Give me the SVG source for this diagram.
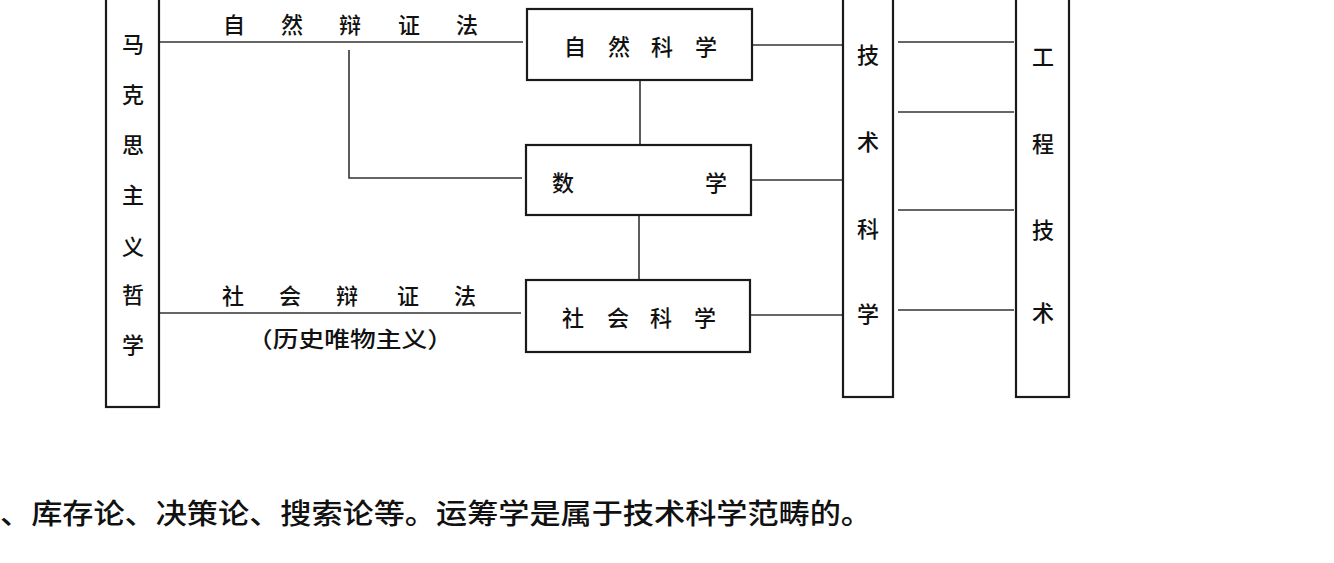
<svg xmlns="http://www.w3.org/2000/svg" width="1334" height="563" viewBox="0 0 1334 563">
<style>
.box{fill:#fff;stroke:#1a1a1a;stroke-width:2.2}
.ln{stroke:#333;stroke-width:1.6;fill:none}
.t{font-family:"Noto Sans CJK SC","Noto Sans CJK TC",sans-serif;font-size:22px;font-weight:500;fill:#111;text-anchor:middle;dominant-baseline:central}
.p{font-family:"Noto Sans CJK SC",sans-serif;font-size:28px;font-weight:500;fill:#111}
</style>
<rect width="1334" height="563" fill="#fff"/>
<g id="connectors">
<path class="ln" d="M160 42H523"/>
<path class="ln" d="M349 50V178H522"/>
<path class="ln" d="M160 313H521"/>
<path class="ln" d="M640 80V145"/>
<path class="ln" d="M639 215V280"/>
<path class="ln" d="M752 45H843"/>
<path class="ln" d="M751 180H843"/>
<path class="ln" d="M750 315H843"/>
<path class="ln" d="M898 42H1014"/>
<path class="ln" d="M898 112H1014"/>
<path class="ln" d="M898 210H1014"/>
<path class="ln" d="M898 310H1014"/>
</g>
<g id="label-ziran">
<text class="t" x="234" y="23">自</text><text class="t" x="292" y="23">然</text><text class="t" x="350" y="23">辩</text><text class="t" x="409" y="23">证</text><text class="t" x="467" y="23">法</text>
</g>
<g id="label-shehui">
<text class="t" x="233" y="294">社</text><text class="t" x="290" y="294">会</text><text class="t" x="347" y="294">辩</text><text class="t" x="408" y="294">证</text><text class="t" x="465" y="294">法</text>
<text class="t" x="350" y="337" textLength="206" lengthAdjust="spacingAndGlyphs">（历史唯物主义）</text>
</g>
<g id="node-zhexue">
<rect class="box" x="106" y="-10" width="53" height="417"/>
<text class="t" x="133" y="42">马</text><text class="t" x="133" y="93">克</text><text class="t" x="133" y="143">思</text><text class="t" x="133" y="193">主</text><text class="t" x="133" y="245">义</text><text class="t" x="133" y="293">哲</text><text class="t" x="133" y="343">学</text>
</g>
<g id="node-ziran">
<rect class="box" x="527" y="9" width="225" height="71"/>
<text class="t" x="575" y="45">自</text><text class="t" x="619" y="45">然</text><text class="t" x="662" y="45">科</text><text class="t" x="706" y="45">学</text>
</g>
<g id="node-shuxue">
<rect class="box" x="526" y="145" width="225" height="70"/>
<text class="t" x="563" y="181">数</text><text class="t" x="716" y="181">学</text>
</g>
<g id="node-shehui">
<rect class="box" x="526" y="280" width="224" height="72"/>
<text class="t" x="573" y="316">社</text><text class="t" x="618" y="316">会</text><text class="t" x="661" y="316">科</text><text class="t" x="705" y="316">学</text>
</g>
<g id="node-jishu">
<rect class="box" x="843" y="-10" width="50" height="407"/>
<text class="t" x="868" y="53">技</text><text class="t" x="868" y="140">术</text><text class="t" x="868" y="227">科</text><text class="t" x="868" y="312">学</text>
</g>
<g id="node-gongcheng">
<rect class="box" x="1016" y="-10" width="53" height="407"/>
<text class="t" x="1043" y="55">工</text><text class="t" x="1043" y="142">程</text><text class="t" x="1043" y="228">技</text><text class="t" x="1043" y="311">术</text>
</g>
<text class="p" x="0" y="524" textLength="872" lengthAdjust="spacingAndGlyphs">、库存论、决策论、搜索论等。运筹学是属于技术科学范畴的。</text>
</svg>
